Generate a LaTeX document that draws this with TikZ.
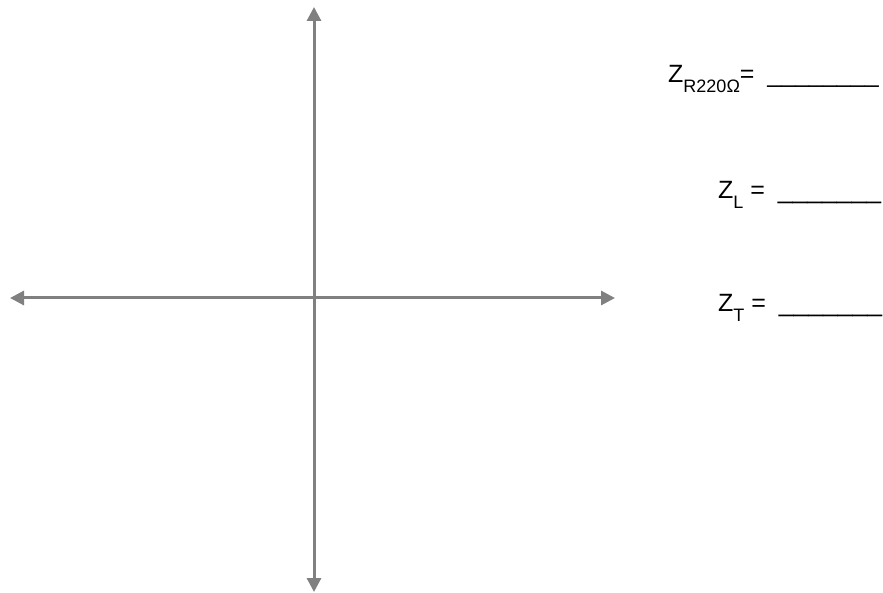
\documentclass[tikz,border=0pt]{standalone}
\usepackage{fontspec}
\setmainfont{Liberation Sans}
\usetikzlibrary{arrows.meta}
\definecolor{axiscol}{RGB}{128,128,128}
\newcommand{\zsub}[1]{\raisebox{-9.5pt}{\fontsize{18}{18}\selectfont #1}}
\newcommand{\zblank}{\_\_\_\_\_\_\_\_}
\newcommand{\zblankshort}{{\fontsize{26.5}{30}\selectfont\_\_\_\_\_\_\_}}
\tikzset{
  axis/.style={draw=axiscol,line width=3pt,{Triangle[length=14pt,width=14pt]}-{Triangle[length=14pt,width=14pt]}},
  zlab/.style={anchor=base west,inner sep=0pt,font=\fontsize{25}{30}\selectfont},
}
\begin{document}
\begin{tikzpicture}[x=1pt,y=-1pt]
  \useasboundingbox (0,0) rectangle (883,593);
  % axes
  \coordinate (ytop) at (314,7);
  \coordinate (ybot) at (314,592);
  \coordinate (xleft) at (10,298);
  \coordinate (xright) at (615,298);
  \draw[axis] (ybot) -- (ytop);
  \draw[axis] (xleft) -- (xright);
  % impedance blanks
  \node[zlab] (zr) at (668,83) {Z\zsub{R220Ω}=\hspace{6pt} \zblank};
  \node[zlab] (zl) at (718,199) {Z\zsub{L} =\hspace{6pt} \zblankshort};
  \node[zlab] (zt) at (718,312) {Z\zsub{T} =\hspace{6pt} \zblankshort};
\end{tikzpicture}
\end{document}
